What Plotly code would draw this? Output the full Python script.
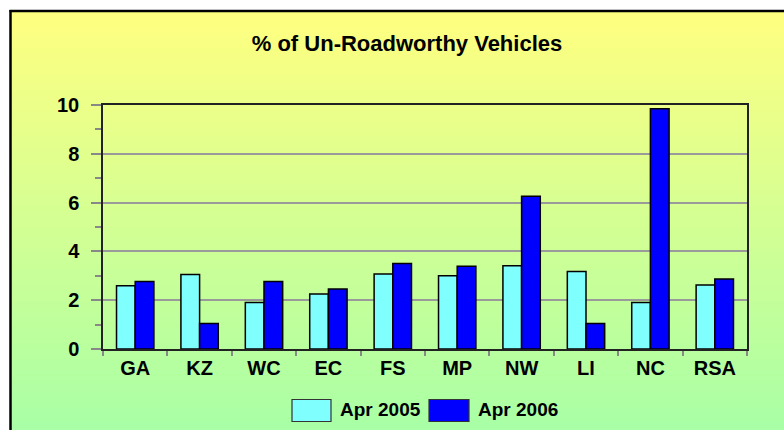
import plotly.graph_objects as go

categories = ["GA", "KZ", "WC", "EC", "FS", "MP", "NW", "LI", "NC", "RSA"]
series_names = ["Apr 2005", "Apr 2006"]
apr_2005 = [2.59, 3.05, 1.91, 2.25, 3.07, 3.00, 3.41, 3.18, 1.91, 2.62]
apr_2006 = [2.77, 1.04, 2.77, 2.46, 3.50, 3.39, 6.26, 1.04, 9.85, 2.87]
y_ticks = [0, 2, 4, 6, 8, 10]
title_text = "% of Un-Roadworthy Vehicles"

W, H = 784, 430
L, R, T, B = 103, 37, 105, 81
PW, PH = W - L - R, H - T - B
FONT = "Liberation Sans, Arial, sans-serif"
colors = ["#80FFFF", "#0000FF"]


def px(xp):
    return (xp - L) / PW


def py(yp):
    return (H - B - yp) / PH


fig = go.Figure()
for name, vals, c in zip(series_names, [apr_2005, apr_2006], colors):
    fig.add_trace(go.Bar(x=categories, y=vals, name=name,
                         marker=dict(color=c, line=dict(color="#000000", width=1.5)),
                         showlegend=False))

shapes = []
# gradient background
top_c = (255, 255, 128)
bot_c = (168, 255, 166)
y_start, y_end = 11, 434
n = 80
step = (y_end - y_start) / n
for i in range(n):
    t = i / (n - 1)
    c = tuple(round(a + (b - a) * t) for a, b in zip(top_c, bot_c))
    y0 = y_start + i * step
    shapes.append(dict(type="rect", xref="paper", yref="paper", layer="below",
                       x0=px(10), x1=px(800), y0=py(y0 - 0.6), y1=py(y0 + step + 0.6),
                       fillcolor="rgb(%d,%d,%d)" % c, line=dict(width=0)))
# chart border (left and top edges only visible)
shapes.append(dict(type="line", xref="paper", yref="paper", layer="below",
                   x0=px(10.5), x1=px(10.5), y0=py(10), y1=py(440),
                   line=dict(color="#000000", width=2.5)))
shapes.append(dict(type="line", xref="paper", yref="paper", layer="below",
                   x0=px(9.5), x1=px(800), y0=py(11), y1=py(11),
                   line=dict(color="#000000", width=2.5)))

# custom legend
legend_boxes = [(292, 331), (429, 469)]
legend_text_x = [338, 476]
for (x0, x1), tx, name, c in zip(legend_boxes, legend_text_x, series_names, colors):
    shapes.append(dict(type="rect", xref="paper", yref="paper", layer="above",
                       x0=px(x0), x1=px(x1), y0=py(399.5), y1=py(421.5),
                       fillcolor=c, line=dict(color="#333333", width=1.2)))
    fig.add_annotation(xref="paper", yref="paper", x=px(tx), y=py(409),
                       xanchor="left", yanchor="middle", showarrow=False,
                       text=name, font=dict(family=FONT, size=19, color="#000000", weight="bold"))

fig.update_layout(
    width=W, height=H,
    margin=dict(l=L, r=R, t=T, b=B, pad=0),
    paper_bgcolor="#FFFFFF",
    plot_bgcolor="rgba(0,0,0,0)",
    barmode="group", bargap=0.42, bargroupgap=0,
    shapes=shapes,
    showlegend=False,
    title=dict(text=title_text, xref="paper", x=px(407), xanchor="center",
               yref="container", y=1 - 43.5 / H, yanchor="middle",
               font=dict(family=FONT, size=22, color="#000000", weight="bold")),
)

fig.update_xaxes(
    type="category", showline=True, linecolor="#222222", linewidth=1.5, mirror=True,
    ticks="outside", tickson="boundaries", ticklen=5, tickcolor="#888888", tickwidth=1.5,
    showgrid=False,
    tickfont=dict(family=FONT, size=20, color="#000000", weight="bold"),
)
fig.update_yaxes(
    range=[0, 10], tickvals=y_ticks, ticktext=[str(v) for v in y_ticks],
    showline=True, linecolor="#222222", linewidth=1.5, mirror=True,
    ticks="outside", ticklen=10, tickcolor="#888888", tickwidth=1.5,
    minor=dict(dtick=1, ticks="outside", ticklen=6, tickcolor="#888888", tickwidth=1.5, showgrid=False),
    showgrid=True, gridcolor="#9A9A9A", gridwidth=1.5, zeroline=False,
    ticklabelstandoff=8,
    tickfont=dict(family=FONT, size=20, color="#000000", weight="bold"),
)

fig.write_html(
    "out.html",
    config={"displayModeBar": False},
    post_script="document.body.style.margin='0';document.body.style.padding='0';"
                "document.body.style.overflow='hidden';"
                "document.documentElement.style.overflow='hidden';",
)
